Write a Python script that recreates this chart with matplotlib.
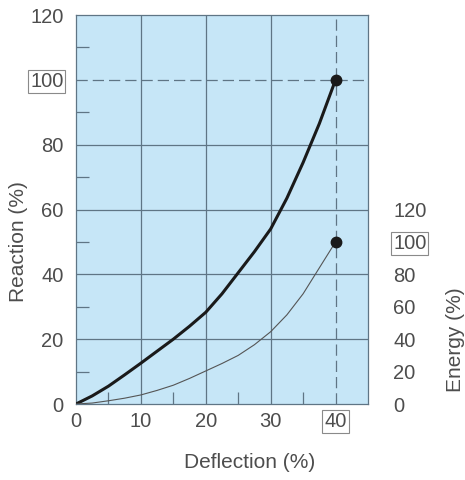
import matplotlib
matplotlib.use('Agg')
import matplotlib.pyplot as plt
import numpy as np

# values
deflection = [0, 2.5, 5, 7.5, 10, 12.5, 15, 17.5, 20, 22.5, 25, 27.5, 30, 32.5, 35, 37.5, 40]
reaction = [0, 2.5, 5.5, 9, 12.6, 16.3, 20, 24, 28.3, 34, 40.5, 47, 54, 63.5, 74.5, 86.5, 100]
energy = [0, 0.6, 2, 3.6, 5.6, 8.4, 11.6, 15.8, 20.4, 25, 30, 36.6, 44.6, 55, 68, 84, 100]

x_ticks = [0, 10, 20, 30, 40]
y_ticks = [0, 20, 40, 60, 80, 100, 120]
energy_ticks = [0, 20, 40, 60, 80, 100, 120]

plt.rcParams['font.family'] = ['Liberation Sans', 'DejaVu Sans']
text_color = '#4d4d4d'
grid_color = '#5f7585'
bg_color = '#c6e6f7'

fig = plt.figure(figsize=(4.65, 4.8), dpi=100)
ax = fig.add_axes([0.1634, 0.1583, 0.628, 0.8104])
ax.set_facecolor(bg_color)
ax.set_xlim(0, 45)
ax.set_ylim(0, 120)

# grid: solid except the 100 % / 40 % lines, which are dashed
for gx in [10, 20, 30]:
    ax.axvline(gx, color=grid_color, lw=0.9, zorder=1)
for gy in [20, 40, 60, 80]:
    ax.axhline(gy, color=grid_color, lw=0.9, zorder=1)
ax.axvline(40, color=grid_color, lw=0.9, dashes=(9, 4), zorder=1)
ax.axhline(100, color=grid_color, lw=0.9, dashes=(9, 4), zorder=1)

for s in ax.spines.values():
    s.set_color(grid_color)
    s.set_linewidth(0.9)

ax.set_xticks(x_ticks, [str(v) for v in x_ticks])
ax.set_yticks(y_ticks, [str(v) for v in y_ticks])
ax.set_xticks([5, 15, 25, 35], minor=True)
ax.set_yticks([10, 30, 50, 70, 90, 110], minor=True)
ax.tick_params(which='major', length=0, labelsize=14.5, labelcolor=text_color)
ax.tick_params(axis='x', which='major', pad=6)
ax.tick_params(axis='y', which='major', pad=9)
ax.tick_params(which='minor', direction='in', length=9, width=0.9, color=grid_color)

# right hand energy scale: 0-120 % spans the lower half of the plot
ax2 = ax.twinx()
ax2.set_ylim(0, 240)
ax2.set_yticks(energy_ticks, [str(v) for v in energy_ticks])
ax2.set_yticks([20, 60, 100], minor=True)
ax2.tick_params(which='major', length=0, labelsize=14.5, labelcolor=text_color, pad=18)
ax2.tick_params(which='minor', direction='in', length=9, width=0.9, color=grid_color)
for s in ax2.spines.values():
    s.set_visible(False)

# curves
ax.plot(deflection, reaction, color='#1a1a1a', lw=2.2, zorder=3)
ax2.plot(deflection, energy, color='#555555', lw=0.8, zorder=3)
ax.plot([deflection[-1]], [reaction[-1]], 'o', color='#1a1a1a', ms=7.5, zorder=4)
ax2.plot([deflection[-1]], [energy[-1]], 'o', color='#1a1a1a', ms=7.5, zorder=4)

box = dict(facecolor='white', edgecolor='#8a8a8a', linewidth=0.8, pad=1.5)
for lab in ax.get_yticklabels():
    if lab.get_text() == '100':
        lab.set_bbox(box)
for lab in ax.get_xticklabels():
    if lab.get_text() == '40':
        lab.set_bbox(box)
for lab in ax2.get_yticklabels():
    if lab.get_text() == '100':
        lab.set_bbox(box)

fig.text(18 / 465, 1 - 242 / 480, 'Reaction (%)', rotation=90, ha='center', va='center',
         fontsize=15, color=text_color)
fig.text(455 / 465, 1 - 340 / 480, 'Energy (%)', rotation=90, ha='center', va='center',
         fontsize=15, color=text_color)
fig.text(250 / 465, 1 - 463 / 480, 'Deflection (%)', ha='center', va='center',
         fontsize=15, color=text_color)

fig.savefig('out.png', dpi=100, facecolor='white')
